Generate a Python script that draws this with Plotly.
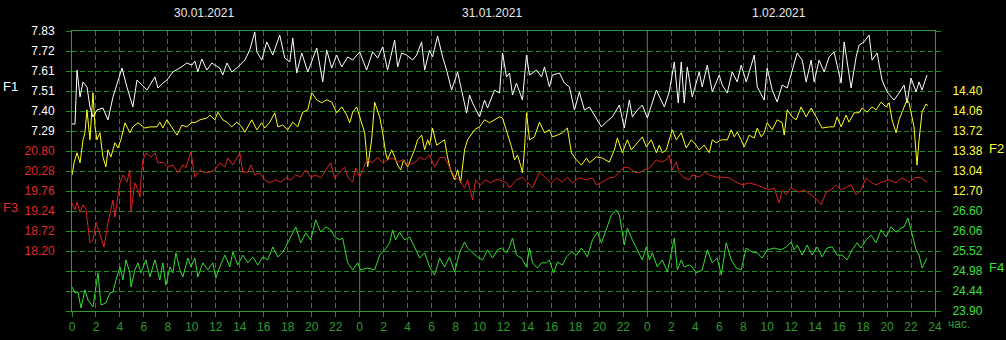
import plotly.graph_objects as go

# ---------------- data (hours from 30.01.2021 00:00, values) ----------------
f1_t = [0.00,0.25,0.42,0.58,0.67,0.92,1.25,1.50,1.75,2.08,2.58,3.00,3.42,4.17,4.58,5.08,5.42,5.67,6.25,6.50,
        6.92,7.17,7.58,7.92,8.42,9.00,9.58,10.00,10.25,10.50,10.83,11.25,11.67,11.92,12.33,12.58,12.92,13.33,13.75,14.17,
        14.42,14.83,15.25,15.42,15.83,16.25,16.75,17.33,17.75,18.17,18.42,18.75,19.17,19.67,20.42,20.92,21.25,21.67,22.08,22.50,
        23.00,23.42,24.00,24.58,25.08,25.50,25.92,26.33,26.92,27.17,27.50,27.92,28.42,28.75,29.17,29.42,29.83,30.08,30.50,30.92,
        31.25,31.67,32.17,32.50,32.92,33.17,33.42,34.00,34.42,34.67,35.25,35.67,35.92,36.25,36.50,36.75,37.08,37.58,37.92,38.17,
        38.75,39.17,39.42,39.83,40.08,40.67,41.08,41.50,41.92,42.33,42.75,43.17,43.42,44.17,44.58,45.08,45.67,46.08,46.50,46.75,
        47.17,47.58,48.00,48.75,49.42,49.83,50.25,50.58,50.83,51.08,51.33,51.75,52.33,52.58,53.00,53.42,54.00,54.25,54.67,55.08,
        55.50,55.83,56.25,56.92,57.17,57.75,58.00,58.42,58.83,59.25,59.67,60.08,60.50,60.92,61.25,61.67,61.92,62.33,62.75,63.17,
        63.58,64.17,64.42,65.00,65.42,65.67,66.08,66.50,66.75,67.17,67.58,68.00,68.58,69.00,69.42,69.67,70.00,70.42,70.67,70.92,
        71.33]
f1_v = [7.328,7.328,7.619,7.511,7.474,7.555,7.528,7.420,7.366,7.403,7.414,7.349,7.474,7.630,7.528,7.420,7.565,7.549,7.511,7.538,
        7.582,7.522,7.549,7.565,7.609,7.630,7.657,7.646,7.668,7.609,7.679,7.619,7.657,7.646,7.630,7.592,7.657,7.609,7.630,7.657,
        7.673,7.727,7.825,7.717,7.673,7.771,7.700,7.808,7.684,7.663,7.792,7.603,7.711,7.609,7.738,7.555,7.727,7.630,7.700,7.636,
        7.690,7.673,7.717,7.619,7.717,7.684,7.744,7.619,7.781,7.636,7.711,7.700,7.673,7.700,7.771,7.619,7.727,7.690,7.803,7.690,
        7.619,7.511,7.609,7.511,7.387,7.484,7.441,7.366,7.457,7.414,7.511,7.495,7.711,7.582,7.603,7.484,7.549,7.457,7.700,7.592,
        7.619,7.582,7.636,7.528,7.592,7.603,7.549,7.528,7.403,7.501,7.403,7.420,7.393,7.312,7.339,7.366,7.430,7.306,7.457,7.366,
        7.403,7.430,7.360,7.511,7.420,7.501,7.663,7.441,7.663,7.441,7.636,7.474,7.609,7.528,7.646,7.501,7.592,7.538,7.495,7.609,
        7.555,7.646,7.555,7.700,7.528,7.457,7.630,7.511,7.447,7.538,7.522,7.609,7.711,7.673,7.555,7.673,7.555,7.673,7.609,7.690,
        7.717,7.549,7.771,7.522,7.690,7.754,7.771,7.808,7.673,7.711,7.565,7.501,7.457,7.495,7.538,7.441,7.576,7.501,7.555,7.511,
        7.592]

f2_t = [0.00,0.17,0.42,0.67,0.92,1.08,1.25,1.50,1.75,1.92,2.08,2.33,2.58,2.83,3.00,3.25,3.58,3.83,4.08,4.42,
        4.83,5.08,5.50,6.08,6.50,7.08,7.33,7.58,7.92,8.33,8.75,9.17,9.58,10.00,10.25,10.67,11.25,11.50,11.92,12.17,
        12.58,12.92,13.33,13.75,14.17,14.42,15.00,15.42,15.83,16.08,16.50,16.92,17.17,17.58,18.00,18.42,18.83,19.25,19.67,20.00,
        20.42,20.83,21.25,21.67,22.08,22.50,22.92,23.17,23.42,23.75,24.00,24.42,24.67,25.00,25.25,25.67,25.92,26.17,26.33,26.67,
        26.92,27.17,27.42,27.67,28.00,28.25,28.58,28.83,29.17,29.42,29.67,29.83,30.08,30.42,30.67,31.08,31.33,31.58,31.92,32.17,
        32.42,32.75,33.00,33.17,33.58,34.00,34.42,34.83,35.25,35.67,35.92,36.25,36.67,36.92,37.17,37.42,37.58,37.75,37.92,38.17,
        38.58,39.00,39.42,39.83,40.08,40.50,40.92,41.33,41.67,42.08,42.50,42.92,43.17,43.75,44.25,44.83,45.25,45.50,45.92,46.33,
        46.67,47.17,47.58,47.92,48.33,48.75,49.00,49.25,49.58,50.08,50.42,50.83,51.25,51.67,52.08,52.33,52.75,53.17,53.42,53.75,
        54.17,54.67,55.00,55.25,55.50,55.83,56.08,56.50,56.92,57.17,57.50,57.75,58.00,58.42,58.83,59.25,59.42,59.67,60.08,60.42,
        60.83,61.25,61.67,62.08,62.58,63.17,63.58,63.83,64.17,64.58,64.83,65.25,65.67,65.92,66.33,66.75,67.08,67.50,67.92,68.17,
        68.42,68.75,69.00,69.25,69.67,69.83,70.08,70.25,70.50,70.67,70.92,71.25,71.42]
f2_v = [12.97,13.18,13.35,13.18,13.57,13.69,14.08,13.57,14.37,13.79,13.57,13.69,13.28,13.11,13.40,13.28,13.52,13.43,13.57,13.86,
        13.69,13.79,13.86,13.77,13.79,13.79,13.87,13.77,13.91,13.79,13.65,13.82,13.79,13.87,13.86,13.91,13.94,13.99,13.91,14.04,
        13.91,13.87,13.79,13.87,13.79,13.70,13.91,13.74,13.86,13.77,13.87,14.03,13.79,13.82,13.74,13.87,13.79,14.04,14.08,14.37,
        14.25,14.20,14.25,14.21,14.03,14.13,13.99,13.86,14.04,14.13,13.96,13.69,13.11,13.57,14.21,13.96,13.69,13.35,13.23,13.40,
        13.28,13.14,13.06,13.23,13.11,13.23,13.40,13.57,13.65,13.40,13.57,13.48,13.77,13.48,13.52,13.57,13.28,13.06,12.89,13.06,
        12.84,13.40,13.57,13.62,13.74,13.79,13.91,13.86,13.91,13.96,13.94,13.74,13.45,13.23,13.31,13.14,13.01,13.40,14.03,13.57,
        13.62,13.87,13.69,13.74,13.62,13.65,13.69,13.77,13.35,13.23,13.14,13.26,13.18,13.28,13.26,13.19,13.40,13.60,13.35,13.57,
        13.40,13.52,13.62,13.45,13.57,13.35,13.48,13.35,13.40,13.74,13.57,13.69,13.43,13.57,13.48,13.40,13.48,13.35,13.57,13.52,
        13.57,13.57,13.74,13.62,13.70,13.57,13.45,13.65,13.60,13.77,13.62,13.69,13.86,13.74,13.91,13.86,13.65,14.08,13.96,13.91,
        14.13,13.96,14.11,13.96,13.77,13.79,13.79,13.96,13.79,13.99,13.87,14.03,14.03,14.11,14.04,14.13,14.08,14.21,14.13,14.20,
        13.91,13.69,13.91,14.04,14.25,14.20,13.96,13.79,13.14,13.57,14.04,14.18,14.15]

f3_t = [0.00,0.25,0.42,0.67,0.92,1.17,1.50,1.75,2.00,2.25,2.67,3.00,3.42,3.58,3.83,4.00,4.25,4.58,4.83,4.92,
        5.25,5.50,5.67,5.75,5.92,6.17,6.58,6.92,7.17,7.58,8.00,8.42,8.83,9.25,9.50,9.92,10.25,10.67,11.08,11.50,
        11.92,12.33,12.75,13.00,13.42,13.75,14.00,14.25,14.67,14.92,15.25,15.67,16.08,16.50,16.92,17.42,17.83,18.25,18.67,19.08,
        19.50,19.92,20.33,20.75,21.17,21.58,21.92,22.33,22.75,23.00,23.42,23.67,24.00,24.42,24.67,25.08,25.50,25.92,26.33,26.75,
        27.17,27.58,28.00,28.58,29.00,29.42,29.83,30.25,30.67,31.08,31.50,31.92,32.33,32.75,33.00,33.42,33.67,34.08,34.50,34.92,
        35.33,35.67,36.25,36.50,37.08,37.58,38.00,38.42,39.00,39.58,40.00,40.42,40.92,41.33,41.75,42.33,42.92,43.42,43.75,44.25,
        44.83,45.25,45.83,46.08,46.50,46.92,47.33,47.75,48.17,48.75,49.17,49.58,49.83,50.08,50.42,50.67,51.08,51.50,51.75,52.33,
        52.75,53.17,53.75,54.25,54.83,55.42,55.92,56.50,57.08,57.58,58.17,58.58,59.00,59.25,59.58,60.00,60.25,60.67,61.08,61.67,
        62.17,62.50,62.92,63.33,63.75,64.17,64.58,65.00,65.42,65.83,66.25,66.67,67.08,67.58,68.17,68.75,69.25,69.83,70.42,70.83,
        71.33]
f3_v = [19.45,19.27,19.47,19.21,19.40,19.27,18.41,18.49,18.95,18.72,18.30,18.93,19.53,19.08,19.60,19.97,20.18,19.99,20.31,19.21,
        19.97,19.79,19.60,20.05,20.57,20.75,20.64,20.75,20.49,20.51,20.38,20.44,20.23,20.44,20.36,20.77,20.12,20.31,20.23,20.25,
        20.31,20.49,20.38,20.62,20.44,20.62,20.75,20.25,20.25,20.44,20.18,20.23,20.05,19.97,20.05,19.99,20.10,20.05,20.18,20.12,
        20.31,20.12,20.18,20.10,20.31,20.49,20.10,20.25,20.38,20.12,19.99,20.36,20.12,20.44,20.57,20.49,20.64,20.49,20.57,20.62,
        20.51,20.57,20.44,20.49,20.64,20.57,20.70,20.38,20.62,20.64,20.38,20.12,20.05,19.84,20.05,19.53,20.05,19.92,20.05,19.97,
        20.05,20.05,19.97,19.84,20.05,20.12,19.99,19.84,20.25,20.10,19.97,20.10,19.99,20.12,19.97,20.10,20.05,20.10,19.92,19.99,
        20.10,20.12,20.31,20.38,20.36,20.25,20.23,20.31,20.36,20.57,20.51,20.57,20.70,20.31,20.51,20.23,20.10,20.05,20.18,20.12,
        20.25,20.18,20.12,20.12,20.10,19.99,19.92,19.97,19.92,19.86,19.79,19.84,19.45,19.79,19.66,19.84,19.79,19.73,19.79,19.66,
        19.53,19.40,19.73,19.79,19.92,19.79,19.86,19.92,19.66,19.79,20.10,19.99,19.92,19.99,20.05,19.97,20.10,19.99,20.12,20.10,
        19.99]

f4_t = [0.00,0.25,0.50,0.75,1.08,1.33,1.75,2.17,2.42,2.83,3.17,3.42,3.67,4.00,4.25,4.50,4.83,4.92,5.25,5.50,
        5.75,6.17,6.50,6.92,7.33,7.58,7.83,8.17,8.42,8.67,9.00,9.25,9.67,9.92,10.25,10.50,10.92,11.33,11.75,12.00,
        12.33,12.75,13.17,13.42,13.83,14.25,14.67,15.08,15.50,15.92,16.33,16.75,17.17,17.58,18.00,18.25,18.67,19.08,19.50,19.92,
        20.33,20.75,21.17,21.58,21.92,22.33,22.58,23.00,23.42,23.83,24.08,24.67,25.25,25.67,26.08,26.50,26.75,27.00,27.33,27.75,
        28.17,28.58,29.00,29.42,29.83,30.25,30.67,31.08,31.50,31.92,32.33,32.75,33.00,33.42,33.83,34.25,34.67,35.08,35.50,35.83,
        36.25,36.50,36.75,37.08,37.50,37.92,38.17,38.42,38.83,39.17,39.58,39.83,40.17,40.50,40.92,41.25,41.67,42.08,42.50,42.75,
        43.00,43.42,43.83,44.17,44.58,45.00,45.42,45.67,46.08,46.33,46.75,47.17,47.58,47.92,48.17,48.42,48.83,49.25,49.67,50.00,
        50.25,50.50,50.83,51.08,51.50,51.75,52.08,52.58,53.00,53.42,53.83,54.17,54.58,55.00,55.42,55.83,56.25,56.75,57.17,57.58,
        58.00,58.58,59.17,59.58,60.00,60.25,60.50,60.92,61.33,61.75,62.17,62.58,63.00,63.42,63.83,64.25,64.67,65.08,65.50,65.83,
        66.25,66.67,67.08,67.50,67.92,68.33,68.75,69.17,69.42,69.75,70.08,70.42,70.67,70.92,71.33]
f4_v = [24.55,24.39,24.41,23.98,24.47,24.20,24.01,24.93,24.06,24.12,24.39,24.41,24.74,25.09,24.74,25.28,24.93,24.55,25.01,25.20,
        24.93,25.28,24.82,25.28,24.74,25.20,24.60,25.09,24.93,25.47,25.01,24.82,25.33,25.09,25.33,24.82,25.20,25.01,25.20,24.79,
        25.09,25.41,25.09,25.49,25.14,25.41,25.20,25.36,25.14,25.36,25.28,25.63,25.36,25.49,25.74,25.90,26.17,25.74,26.01,25.82,
        26.36,26.03,26.17,26.09,25.90,25.82,25.87,25.20,25.01,25.20,25.01,25.06,25.01,25.41,25.55,25.74,26.09,25.82,26.03,25.82,
        25.90,25.63,25.33,25.47,25.09,24.87,25.33,25.09,25.36,24.95,25.47,25.76,25.60,25.47,25.36,25.28,25.55,25.33,25.55,25.60,
        25.47,25.63,25.87,25.41,25.33,25.09,25.60,25.20,25.06,25.20,25.20,25.28,24.93,25.22,25.14,25.36,25.49,25.41,25.60,25.49,
        25.36,25.82,26.03,25.74,26.14,26.49,26.63,26.49,25.68,26.14,25.82,25.55,25.28,25.63,25.28,25.47,25.09,25.28,24.95,25.47,
        25.87,25.01,25.28,25.09,25.14,25.09,24.93,25.01,25.55,25.20,25.33,24.87,25.74,25.28,25.06,25.01,25.60,25.49,25.47,25.33,
        25.55,25.60,25.55,25.63,25.76,25.55,25.68,25.41,25.68,25.41,25.63,25.36,25.60,25.63,25.41,25.41,25.28,25.55,25.74,25.60,
        25.82,25.95,25.74,26.09,25.90,26.17,26.03,26.14,26.17,26.41,26.01,25.55,25.41,25.06,25.33]

# axis labels (top -> bottom) and scales
f1_labels = ["7.83", "7.72", "7.61", "7.51", "7.40", "7.29"]
f2_labels = ["14.40", "14.06", "13.72", "13.38", "13.04", "12.70"]
f3_labels = ["20.80", "20.28", "19.76", "19.24", "18.72", "18.20"]
f4_labels = ["26.60", "26.06", "25.52", "24.98", "24.44", "23.90"]
dates = ["30.01.2021", "31.01.2021", "1.02.2021"]

N_GRID = 14  # number of horizontal grid intervals
# (value at top grid line, value step per grid interval, index of first label)
f1_scale = (7.83, 0.108, 0)
f2_scale = (15.42, 0.34, 3)
f3_scale = (23.92, 0.52, 6)
f4_scale = (31.46, 0.54, 9)

FONT = "Liberation Sans, Arial, sans-serif"
GRID = "#1f8a1f"
BORDER = "#2f9a2f"
XLAB = "#2f9a2f"


def yaxis_def(scale, labels, color, side, draw_grid, overlay):
    top, step, first = scale
    vals = [top - k * step for k in range(N_GRID + 1)]
    text = [""] * (N_GRID + 1)
    for i, lab in enumerate(labels):
        text[first + i] = lab
    d = dict(
        range=[top - N_GRID * step, top], automargin=False,
        tickmode="array", tickvals=vals, ticktext=text,
        ticks="outside", ticklen=5, tickcolor=GRID, tickwidth=1,
        ticklabelstandoff=9,
        tickfont=dict(family=FONT, size=12, color=color),
        side=side, zeroline=False, fixedrange=True,
        showgrid=draw_grid, gridcolor=GRID, griddash="5px,3px", gridwidth=1,
        showline=False,
    )
    if overlay:
        d["overlaying"] = "y"
        d["anchor"] = "x"
    return d


fig = go.Figure()
fig.add_trace(go.Scatter(x=f3_t, y=f3_v, mode="lines", line=dict(color="#dd2222", width=1), yaxis="y3"))
fig.add_trace(go.Scatter(x=f4_t, y=f4_v, mode="lines", line=dict(color="#33dd33", width=1), yaxis="y4"))
fig.add_trace(go.Scatter(x=f2_t, y=f2_v, mode="lines", line=dict(color="#ffff22", width=1), yaxis="y2"))
fig.add_trace(go.Scatter(x=f1_t, y=f1_v, mode="lines", line=dict(color="#ffffff", width=1), yaxis="y"))

xt = list(range(0, 73, 2))
xtext = [str(h % 24) if h < 72 else "24" for h in xt]

fig.update_layout(
    width=1006, height=340, autosize=False,
    margin=dict(l=72, r=71, t=31, b=29, pad=0),
    paper_bgcolor="black", plot_bgcolor="black",
    showlegend=False,
    xaxis=dict(range=[0, 72], automargin=False, tickmode="array", tickvals=xt, ticktext=xtext,
               ticks="outside", ticklen=5, tickcolor=GRID,
               tickfont=dict(family=FONT, size=12, color=XLAB),
               showgrid=True, gridcolor=GRID, griddash="5px,3px", gridwidth=1,
               showline=True, linecolor=BORDER, mirror=True, zeroline=False, fixedrange=True),
    yaxis=yaxis_def(f1_scale, f1_labels, "#ffffff", "left", True, False),
    yaxis2=yaxis_def(f2_scale, f2_labels, "#ffff33", "right", False, True),
    yaxis3=yaxis_def(f3_scale, f3_labels, "#e02828", "left", False, True),
    yaxis4=yaxis_def(f4_scale, f4_labels, "#3ee03e", "right", False, True),
)
fig.layout.yaxis.showline = True
fig.layout.yaxis.linecolor = BORDER
fig.layout.yaxis.mirror = True

# solid day separators
for d in (24, 48):
    fig.add_shape(type="line", xref="x", yref="paper", x0=d, x1=d, y0=0, y1=1,
                  line=dict(color=BORDER, width=1), layer="below")

# date labels above each day
for i, dt in enumerate(dates):
    fig.add_annotation(x=11 + 24 * i, y=1.064, xref="x", yref="paper", text=dt, showarrow=False,
                       xanchor="center", yanchor="middle",
                       font=dict(family=FONT, size=12, color="#e8e8e8"))

# series names
for name, x, y, c in (("F1", -0.0707, 0.80, "#ffffff"), ("F3", -0.0707, 0.371, "#e02828"),
                      ("F2", 1.0718, 0.582, "#ffff33"), ("F4", 1.0718, 0.157, "#3ee03e")):
    fig.add_annotation(x=x, y=y, xref="paper", yref="paper", text=name, showarrow=False,
                       xanchor="center", yanchor="middle",
                       font=dict(family=FONT, size=13, color=c))

fig.add_annotation(x=1.013, y=-0.048, xref="paper", yref="paper", text="час.", showarrow=False,
                   xanchor="left", yanchor="middle", font=dict(family=FONT, size=12, color=XLAB))

fig.write_html(
    "out.html",
    config={"displayModeBar": False, "staticPlot": True},
    post_script="document.body.style.margin='0';document.body.style.padding='0';"
                "document.body.style.overflow='hidden';document.body.style.background='black';",
)
